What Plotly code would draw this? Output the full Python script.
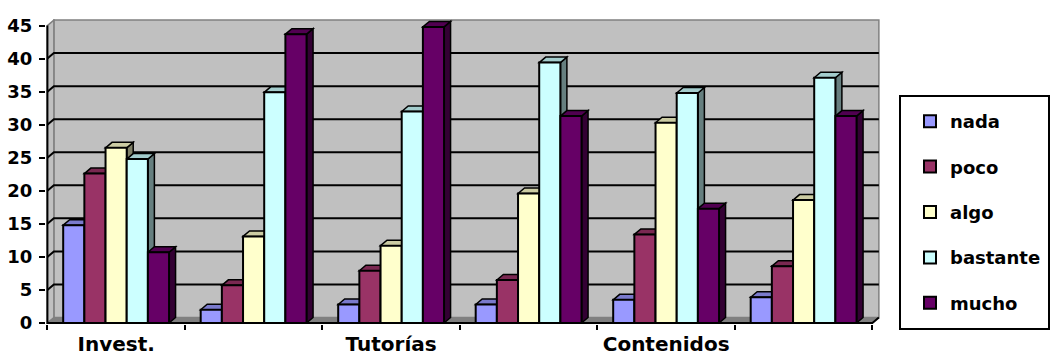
import plotly.graph_objects as go

# Category axis: only every other group carries a printed label
categories = ["Invest.", "", "Tutorías", "", "Contenidos", ""]
x_pos = list(range(len(categories)))

series_names = ["nada", "poco", "algo", "bastante", "mucho"]
nada = [14.8, 2.0, 2.8, 2.8, 3.5, 3.9]
poco = [22.6, 5.7, 7.9, 6.5, 13.4, 8.6]
algo = [26.5, 13.1, 11.7, 19.6, 30.3, 18.6]
bastante = [24.8, 34.9, 32.0, 39.4, 34.8, 37.1]
mucho = [10.7, 43.7, 44.8, 31.3, 17.3, 31.3]
series_values = [nada, poco, algo, bastante, mucho]

y_ticks = [0, 5, 10, 15, 20, 25, 30, 35, 40, 45]

colors = ["#9999FF", "#993366", "#FFFFCC", "#CCFFFF", "#660066"]

# --- geometry of the pseudo-3D frame -------------------------------------
L_M, R_M, T_M, B_M = 46, 170, 19, 34
W, H = 1050, 358
plot_w = W - L_M - R_M
plot_h = H - T_M - B_M
px_per_x = 137.5          # pixels per category
px_per_y = 6.61           # pixels per value unit
x_lo = -0.51
x_hi = x_lo + plot_w / px_per_x
y_lo = -0.15
y_hi = y_lo + plot_h / px_per_y

dx = 6.5 / px_per_x       # depth offset, x
dy = 5.5 / px_per_y       # depth offset, y
bar_w = 0.154
x_min, x_max = -0.5, len(categories) - 0.5
y_max = max(y_ticks)


def paper_x(px):
    return (px - L_M) / plot_w


def paper_y(py):
    return (H - B_M - py) / plot_h


def shade(hex_color, f):
    r, g, b = (int(hex_color[i:i + 2], 16) for i in (1, 3, 5))
    return "#%02X%02X%02X" % (int(r * f), int(g * f), int(b * f))


def poly(points):
    return "M " + " L ".join(f"{px},{py}" for px, py in points) + " Z"


shapes = []
# back wall
shapes.append(dict(type="path", layer="below", xref="x", yref="y",
                   path=poly([(x_min + dx, dy), (x_max + dx, dy),
                              (x_max + dx, y_max + dy), (x_min + dx, y_max + dy)]),
                   fillcolor="#C0C0C0", line=dict(color="#808080", width=1.5)))
# left wall
shapes.append(dict(type="path", layer="below", xref="x", yref="y",
                   path=poly([(x_min, 0), (x_min + dx, dy),
                              (x_min + dx, y_max + dy), (x_min, y_max)]),
                   fillcolor="#C0C0C0", line=dict(color="#808080", width=1.5)))
# floor
shapes.append(dict(type="path", layer="below", xref="x", yref="y",
                   path=poly([(x_min, 0), (x_max, 0),
                              (x_max + dx, dy), (x_min + dx, dy)]),
                   fillcolor="#808080", line=dict(color="#808080", width=1)))
# gridlines on the walls
for v in y_ticks[1:-1]:
    shapes.append(dict(type="path", layer="below", xref="x", yref="y",
                       path=f"M {x_min},{v} L {x_min + dx},{v + dy} L {x_max + dx},{v + dy}",
                       line=dict(color="black", width=2)))
# front axis edges
shapes.append(dict(type="path", layer="below", xref="x", yref="y",
                   path=f"M {x_min},{y_max} L {x_min},0 L {x_max},0 L {x_max + dx},{dy}",
                   line=dict(color="black", width=2)))

# top and side faces of each column, drawn left to right
for c in x_pos:
    for i, vals in enumerate(series_values):
        v = vals[c]
        x0 = c + (i - 2.5) * bar_w
        x1 = x0 + bar_w
        shapes.append(dict(type="path", layer="below", xref="x", yref="y",
                           path=poly([(x1, 0), (x1 + dx, dy), (x1 + dx, v + dy), (x1, v)]),
                           fillcolor=shade(colors[i], 0.5),
                           line=dict(color="black", width=1.5)))
        shapes.append(dict(type="path", layer="below", xref="x", yref="y",
                           path=poly([(x0, v), (x0 + dx, v + dy), (x1 + dx, v + dy), (x1, v)]),
                           fillcolor=shade(colors[i], 0.8),
                           line=dict(color="black", width=1.5)))

# legend frame
shapes.append(dict(type="rect", layer="below", xref="paper", yref="paper",
                   x0=paper_x(900), x1=paper_x(1049), y0=paper_y(96), y1=paper_y(329),
                   fillcolor="white", line=dict(color="black", width=2)))

fig = go.Figure()
for i, (name, vals) in enumerate(zip(series_names, series_values)):
    fig.add_trace(go.Bar(
        x=x_pos, y=vals, name=name,
        width=bar_w, offset=(i - 2.5) * bar_w,
        marker=dict(color=colors[i], line=dict(color="black", width=2)),
        legendgroup=name,
    ))

font_family = "DejaVu Sans"
fig.update_layout(
    width=W, height=H,
    margin=dict(l=L_M, r=R_M, t=T_M, b=B_M, autoexpand=False),
    paper_bgcolor="white", plot_bgcolor="white",
    barmode="overlay",
    shapes=shapes,
    font=dict(family=font_family, color="black", size=18, weight="bold"),
    showlegend=True,
    legend=dict(
        x=paper_x(902), xanchor="left",
        y=paper_y(103), yanchor="top",
        bgcolor="rgba(0,0,0,0)", borderwidth=0,
        font=dict(family=font_family, size=18, color="black", weight="bold"),
        traceorder="grouped", tracegroupgap=19,
        indentation=8,
    ),
    xaxis=dict(
        range=[x_lo, x_hi], showgrid=False, zeroline=False, showline=False,
        tickmode="array", tickvals=x_pos, ticktext=categories, ticks="",
        ticklabelstandoff=6,
        tickfont=dict(family=font_family, size=20, color="black", weight="bold"),
        minor=dict(tickmode="array", tickvals=[c - 0.5 for c in x_pos] + [x_pos[-1] + 0.5],
                   ticks="outside", ticklen=5, tickwidth=2, tickcolor="black",
                   showgrid=False),
        fixedrange=True,
    ),
    yaxis=dict(
        range=[y_lo, y_hi], showgrid=False, zeroline=False, showline=False,
        tickmode="array", tickvals=y_ticks, ticks="outside", ticklen=6,
        tickwidth=2, tickcolor="black", ticklabelstandoff=3,
        tickfont=dict(family=font_family, size=18, color="black", weight="bold"),
        fixedrange=True,
    ),
)

fig.write_html("out.html")
